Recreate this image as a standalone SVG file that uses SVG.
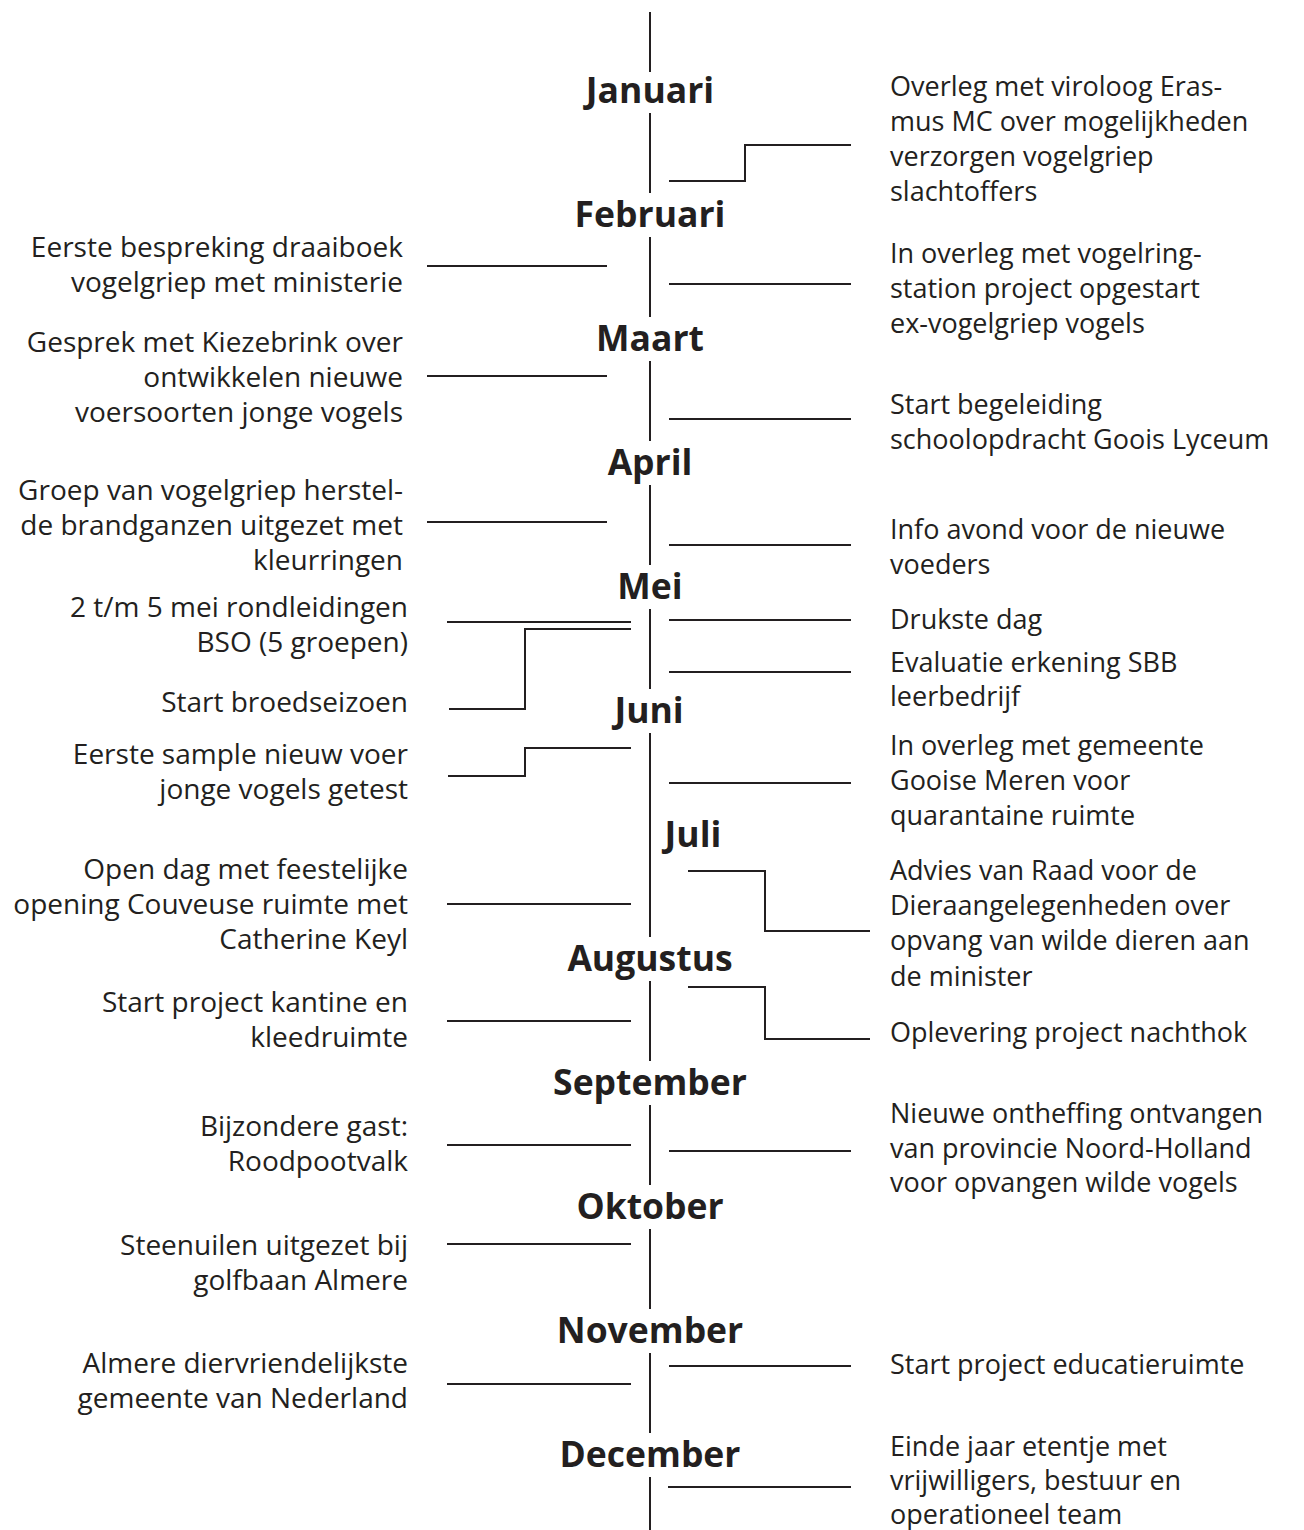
<svg xmlns="http://www.w3.org/2000/svg" width="1304" height="1530" viewBox="0 0 1304 1530">
<style>
.m{font-family:"Open Sans","Liberation Sans",sans-serif;font-weight:700;font-size:35.5px;fill:#231f20;text-anchor:middle}
.r{font-family:"Open Sans","Liberation Sans",sans-serif;font-size:27px;fill:#231f20}
.l{font-family:"Open Sans","Liberation Sans",sans-serif;font-size:28px;fill:#231f20;text-anchor:end}
.c{fill:none;stroke:#231f20;stroke-width:2}
</style>
<rect width="1304" height="1530" fill="#fff"/>
<g id="axis" class="c">
<path d="M650 12V72M650 113V193M650 237V317M650 361V441M650 485V565M650 609V689M650 733V937M650 981V1061M650 1105V1185M650 1229V1309M650 1353V1433M650 1477V1530"/>
</g>
<g id="months">
<text id="m-jan" class="m" x="650" y="103">Januari</text>
<text id="m-feb" class="m" x="650" y="227">Februari</text>
<text id="m-mrt" class="m" x="650" y="351">Maart</text>
<text id="m-apr" class="m" x="650" y="475">April</text>
<text id="m-mei" class="m" x="650" y="599">Mei</text>
<text id="m-jun" class="m" x="649" y="723">Juni</text>
<text id="m-jul" class="m" x="693" y="847">Juli</text>
<text id="m-aug" class="m" x="650" y="971">Augustus</text>
<text id="m-sep" class="m" x="650" y="1095">September</text>
<text id="m-okt" class="m" x="650" y="1219">Oktober</text>
<text id="m-nov" class="m" x="650" y="1343">November</text>
<text id="m-dec" class="m" x="650" y="1467">December</text>
</g>
<g id="connectors" class="c">
<path d="M669 181H745V145H851"/>
<path d="M669 284H851"/>
<path d="M669 419H851"/>
<path d="M669 545H851"/>
<path d="M669 620H851"/>
<path d="M669 672H851"/>
<path d="M669 783H851"/>
<path d="M688 871H765V931H870"/>
<path d="M688 987H765V1039H870"/>
<path d="M669 1151H851"/>
<path d="M669 1366H851"/>
<path d="M668 1487H851"/>
<path d="M427 266H607"/>
<path d="M427 376H607"/>
<path d="M427 522H607"/>
<path d="M447 622H631"/>
<path d="M631 629H525V709H449"/>
<path d="M631 748H525V776H448"/>
<path d="M447 904H631"/>
<path d="M447 1021H631"/>
<path d="M447 1145H631"/>
<path d="M447 1244H631"/>
<path d="M447 1384H631"/>
</g>
<g id="e1"><text class="r" x="890" y="96">Overleg met viroloog Eras-</text><text class="r" x="890" y="131">mus MC over mogelijkheden</text><text class="r" x="890" y="166">verzorgen vogelgriep</text><text class="r" x="890" y="201">slachtoffers</text></g>
<g id="e2"><text class="r" x="890" y="263">In overleg met vogelring-</text><text class="r" x="890" y="298">station project opgestart</text><text class="r" x="890" y="333">ex-vogelgriep vogels</text></g>
<g id="e3"><text class="r" x="890" y="414">Start begeleiding</text><text class="r" x="890" y="449">schoolopdracht Goois Lyceum</text></g>
<g id="e4"><text class="r" x="890" y="539">Info avond voor de nieuwe</text><text class="r" x="890" y="574">voeders</text></g>
<g id="e5"><text class="r" x="890" y="629">Drukste dag</text></g>
<g id="e6"><text class="r" x="890" y="672">Evaluatie erkening SBB</text><text class="r" x="890" y="706">leerbedrijf</text></g>
<g id="e7"><text class="r" x="890" y="755">In overleg met gemeente</text><text class="r" x="890" y="790">Gooise Meren voor</text><text class="r" x="890" y="825">quarantaine ruimte</text></g>
<g id="e8"><text class="r" x="890" y="880">Advies van Raad voor de</text><text class="r" x="890" y="915">Dieraangelegenheden over</text><text class="r" x="890" y="950">opvang van wilde dieren aan</text><text class="r" x="890" y="986">de minister</text></g>
<g id="e9"><text class="r" x="890" y="1042">Oplevering project nachthok</text></g>
<g id="e10"><text class="r" x="890" y="1123">Nieuwe ontheffing ontvangen</text><text class="r" x="890" y="1158">van provincie Noord-Holland</text><text class="r" x="890" y="1192">voor opvangen wilde vogels</text></g>
<g id="e11"><text class="r" x="890" y="1374">Start project educatieruimte</text></g>
<g id="e12"><text class="r" x="890" y="1456">Einde jaar etentje met</text><text class="r" x="890" y="1490">vrijwilligers, bestuur en</text><text class="r" x="890" y="1524">operationeel team</text></g>
<g id="w1"><text class="l" x="403" y="257">Eerste bespreking draaiboek</text><text class="l" x="403" y="292">vogelgriep met ministerie</text></g>
<g id="w2"><text class="l" x="403" y="352">Gesprek met Kiezebrink over</text><text class="l" x="403" y="387">ontwikkelen nieuwe</text><text class="l" x="403" y="422">voersoorten jonge vogels</text></g>
<g id="w3"><text class="l" x="403" y="500">Groep van vogelgriep herstel-</text><text class="l" x="403" y="535">de brandganzen uitgezet met</text><text class="l" x="403" y="570">kleurringen</text></g>
<g id="w4"><text class="l" x="408" y="617">2 t/m 5 mei rondleidingen</text><text class="l" x="408" y="652">BSO (5 groepen)</text></g>
<g id="w5"><text class="l" x="408" y="712">Start broedseizoen</text></g>
<g id="w6"><text class="l" x="408" y="764">Eerste sample nieuw voer</text><text class="l" x="408" y="799">jonge vogels getest</text></g>
<g id="w7"><text class="l" x="408" y="879">Open dag met feestelijke</text><text class="l" x="408" y="914">opening Couveuse ruimte met</text><text class="l" x="408" y="949">Catherine Keyl</text></g>
<g id="w8"><text class="l" x="408" y="1012">Start project kantine en</text><text class="l" x="408" y="1047">kleedruimte</text></g>
<g id="w9"><text class="l" x="408" y="1136">Bijzondere gast:</text><text class="l" x="408" y="1171">Roodpootvalk</text></g>
<g id="w10"><text class="l" x="408" y="1255">Steenuilen uitgezet bij</text><text class="l" x="408" y="1290">golfbaan Almere</text></g>
<g id="w11"><text class="l" x="408" y="1373">Almere diervriendelijkste</text><text class="l" x="408" y="1408">gemeente van Nederland</text></g>
</svg>
